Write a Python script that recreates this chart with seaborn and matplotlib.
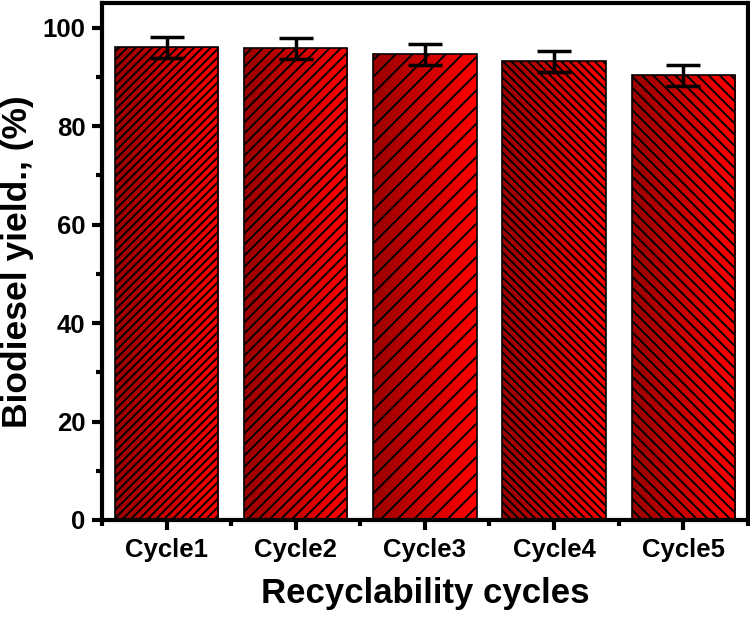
import numpy as np
import pandas as pd
import matplotlib
matplotlib.use("Agg")
import matplotlib.pyplot as plt
import seaborn as sns
from matplotlib.colors import LinearSegmentedColormap
from matplotlib.ticker import MultipleLocator

# Data
cycles = ["Cycle1", "Cycle2", "Cycle3", "Cycle4", "Cycle5"]
yield_pct = [96.0, 95.8, 94.6, 93.2, 90.3]
yield_err = [2.2, 2.2, 2.1, 2.1, 2.1]
hatches = ["////", "///", "//", "\\\\\\\\", "\\\\\\"]

df = pd.DataFrame({"cycle": cycles, "yield": yield_pct})

sns.set_style("ticks")
plt.rcParams["font.family"] = ["Liberation Sans", "DejaVu Sans"]
plt.rcParams["font.weight"] = "bold"
plt.rcParams["hatch.linewidth"] = 1.4
for key in ["text.color", "axes.labelcolor", "xtick.color", "ytick.color", "axes.edgecolor"]:
    plt.rcParams[key] = "black"

fig = plt.figure(figsize=(7.5, 6.18), dpi=100)
ax = fig.add_axes([0.136, 0.1586, 0.861, 0.8364])

sns.barplot(data=df, x="cycle", y="yield", ax=ax, width=0.8,
            color="red", edgecolor="black", linewidth=1.2, errorbar=None)

# red gradient fill (dark left -> bright right) clipped to each bar
cmap = LinearSegmentedColormap.from_list("reds", ["#9a0000", "#ff0000"])
grad = np.linspace(0, 1, 256).reshape(1, -1)
for patch, h in zip(ax.patches, hatches):
    x0, y0 = patch.get_x(), patch.get_y()
    w, hgt = patch.get_width(), patch.get_height()
    im = ax.imshow(grad, cmap=cmap, aspect="auto", extent=[x0, x0 + w, y0, y0 + hgt],
                   zorder=patch.get_zorder() - 0.1)
    im.set_clip_path(patch)
    patch.set_facecolor("none")
    patch.set_hatch(h)

ax.errorbar(range(len(cycles)), yield_pct, yerr=yield_err, fmt="none",
            ecolor="black", elinewidth=2.5, capsize=12, capthick=2.5, zorder=5)

ax.set_xlim(-0.5, 4.5)
ax.set_ylim(0, 105)
ax.yaxis.set_major_locator(MultipleLocator(20))
ax.yaxis.set_minor_locator(MultipleLocator(10))
ax.set_xticks(range(len(cycles)))
ax.set_xticks(np.arange(-0.5, 5, 1), minor=True)

for s in ax.spines.values():
    s.set_linewidth(3)
ax.tick_params(which="major", length=7, width=3, labelsize=18.5, direction="out")
ax.tick_params(which="minor", length=4, width=3, direction="out")
ax.tick_params(axis="x", pad=6)
ax.tick_params(axis="y", pad=5)

ax.set_xlabel("Recyclability cycles", fontsize=25, fontweight="bold", labelpad=11)
ax.set_ylabel("Biodiesel yield., (%)", fontsize=25.5, fontweight="bold", labelpad=6)

fig.savefig("out.png", dpi=100)
